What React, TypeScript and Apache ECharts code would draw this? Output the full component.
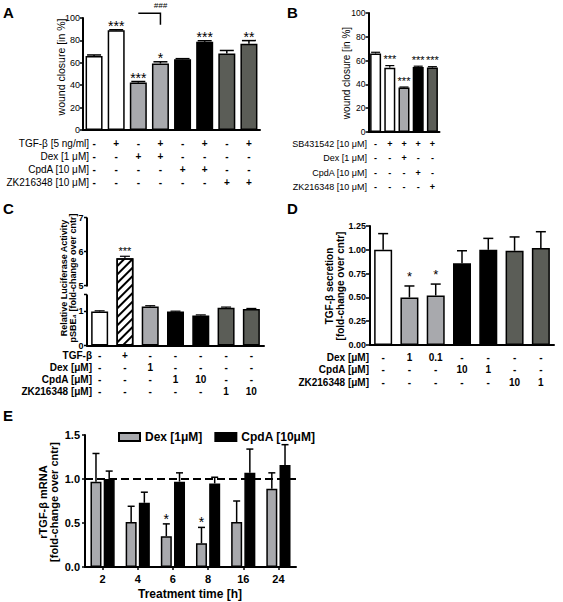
import React, { useEffect, useRef } from 'react';
import * as echarts from 'echarts';

// ---------------- DATA ----------------
// Panel A: wound closure [in %]
const catsA = ['1', '2', '3', '4', '5', '6', '7', '8'];
const woundA = [66, 89, 42.3, 59.4, 63.2, 78.7, 68.2, 77];
const woundErrA = [1, 0.5, 1, 1.5, 0.5, 1, 2.8, 2.8];
const starsA = ['', '***', '***', '*', '', '***', '', '**'];
const groupsA = ['ctrl', 'ctrl', 'dex', 'dex', 'cpda', 'cpda', 'zk', 'zk'];
const rowNamesA = ['TGF-β [5 ng/ml]', 'Dex [1 μM]', 'CpdA [10 μM]', 'ZK216348 [10 μM]'];
const rowsA = [
  ['-', '+', '-', '+', '-', '+', '-', '+'],
  ['-', '-', '+', '+', '-', '-', '-', '-'],
  ['-', '-', '-', '-', '+', '+', '-', '-'],
  ['-', '-', '-', '-', '-', '-', '+', '+'],
];
const bracketA = [2, 3, 104.3, 94]; // from bar, to bar, top value, end value
const bracketLabelA = '###';
const bracketLabelValueA = 111;

// Panel B
const catsB = ['1', '2', '3', '4', '5'];
const woundB = [66, 54, 37.3, 54.6, 54.2];
const woundErrB = [1, 1.8, 0.5, 0.7, 0.7];
const starsB = ['', '***', '***', '***', '***'];
const groupsB = ['ctrl', 'ctrl', 'dex', 'cpda', 'zk'];
const rowNamesB = ['SB431542 [10 μM]', 'Dex [1 μM]', 'CpdA [10 μM]', 'ZK216348 [10 μM]'];
const rowsB = [
  ['-', '+', '+', '+', '+'],
  ['-', '-', '+', '-', '-'],
  ['-', '-', '-', '+', '-'],
  ['-', '-', '-', '-', '+'],
];

// Panel C: luciferase activity (broken y axis)
const catsC = ['1', '2', '3', '4', '5', '6', '7'];
const lucC = [1.0, 5.8, 1.15, 1.0, 0.88, 1.11, 1.07];
const lucErrC = [0.02, 0.06, 0.02, 0.01, 0.02, 0.02, 0.02];
const starsC = ['', '***', '', '', '', '', ''];
const groupsC = ['ctrl', 'tgf', 'dex', 'cpda', 'cpda', 'zk', 'zk'];
const rowNamesC = ['TGF-β', 'Dex [μM]', 'CpdA [μM]', 'ZK216348 [μM]'];
const rowsC = [
  ['-', '+', '-', '-', '-', '-', '-'],
  ['-', '-', '1', '-', '-', '-', '-'],
  ['-', '-', '-', '1', '10', '-', '-'],
  ['-', '-', '-', '-', '-', '1', '10'],
];
const breakC = { start: 1.5, end: 5 };
const yMaxC = 7;
const tickLabelsC = [0, 1, 5, 6, 7];

// Panel D: TGF-β secretion
const catsD = ['1', '2', '3', '4', '5', '6', '7'];
const secD = [1.0, 0.5, 0.52, 0.86, 1.0, 0.99, 1.02];
const secErrD = [0.17, 0.12, 0.12, 0.13, 0.12, 0.145, 0.17];
const starsD = ['', '*', '*', '', '', '', ''];
const groupsD = ['ctrl', 'dex', 'dex', 'cpda', 'cpda', 'zk', 'zk'];
const rowNamesD = ['Dex [μM]', 'CpdA [μM]', 'ZK216348 [μM]'];
const rowsD = [
  ['-', '1', '0.1', '-', '-', '-', '-'],
  ['-', '-', '-', '10', '1', '-', '-'],
  ['-', '-', '-', '-', '-', '10', '1'],
];

// Panel E: rTGF-β mRNA
const timesE = ['2', '4', '6', '8', '16', '24'];
const dexE = [0.97, 0.51, 0.35, 0.27, 0.51, 0.89];
const dexErrE = [0.32, 0.18, 0.14, 0.18, 0.24, 0.18];
const cpdaE = [1.0, 0.73, 0.97, 0.95, 1.07, 1.16];
const cpdaErrE = [0.09, 0.12, 0.1, 0.07, 0.27, 0.23];
const dexStarsE = ['', '', '*', '*', '', ''];
const cpdaStarsE = ['', '', '', '', '', ''];
const refLevelE = 1;
const seriesNamesE = ['Dex [1μM]', 'CpdA [10μM]'];

// ---------------- STYLE ----------------
const F = '"Liberation Sans", Arial, Helvetica, sans-serif';
const COLORS: Record<string, string> = {
  ctrl: '#ffffff',
  tgf: '#ffffff',
  dex: '#a8a9ad',
  cpda: '#000000',
  zk: '#5b5d57',
};
const HATCH = {
  symbol: 'rect',
  symbolSize: 1,
  dashArrayX: [1, 0],
  dashArrayY: [1.6, 3.2],
  rotation: -Math.PI / 4,
  color: '#000',
};
const GRID_C = { left: 87, top: 217.5, width: 177, height: 128 };

function barData(vals: number[], groups: string[]) {
  return vals.map((v, i) => {
    const g = groups[i];
    const item: any = { value: v, itemStyle: { color: COLORS[g] } };
    if (g === 'tgf') item.itemStyle.decal = HATCH;
    return item;
  });
}

function errSeries(
  grid: number,
  vals: number[],
  errs: number[],
  stars: string[],
  o: { offset: number; cap: number; lw: number; fs: number; gap: number }
) {
  return {
    type: 'custom',
    xAxisIndex: grid,
    yAxisIndex: grid,
    clip: false,
    silent: true,
    z: 5,
    data: vals.map((v, i) => [i, v, errs[i]]),
    encode: { x: 0, y: 1 },
    renderItem: (params: any, api: any) => {
      const i = api.value(0);
      const v = api.value(1);
      const e = api.value(2);
      const b = api.coord([i, v]);
      const t = api.coord([i, v + e]);
      const x = b[0] + o.offset;
      const children: any[] = [
        { type: 'line', shape: { x1: x, y1: b[1], x2: x, y2: t[1] }, style: { stroke: '#000', lineWidth: o.lw } },
        { type: 'line', shape: { x1: x - o.cap / 2, y1: t[1], x2: x + o.cap / 2, y2: t[1] }, style: { stroke: '#000', lineWidth: o.lw } },
      ];
      const s = stars[params.dataIndex];
      if (s) {
        children.push({
          type: 'text',
          x,
          y: t[1] - o.gap,
          style: {
            text: s,
            align: 'center',
            verticalAlign: 'bottom',
            textAlign: 'center',
            textVerticalAlign: 'bottom',
            fontSize: o.fs,
            fontFamily: F,
            fill: '#000',
          },
        });
      }
      return { type: 'group', children };
    },
  };
}

function xCat(grid: number, cats: string[], rows: string[][] | null, o: any) {
  return {
    gridIndex: grid,
    type: 'category',
    data: cats,
    axisLine: { show: true, onZero: false, lineStyle: { color: '#000', width: 2 } },
    axisTick: o.tick ? { show: true, alignWithLabel: true, length: 3, lineStyle: { color: '#000', width: 1.5 } } : { show: false },
    splitLine: { show: false },
    axisLabel: {
      show: true,
      interval: 0,
      color: '#000',
      fontFamily: F,
      fontSize: o.fs,
      fontWeight: 'bold',
      lineHeight: o.lh,
      margin: o.margin,
      formatter: rows ? (_v: string, i: number) => rows.map((r) => r[i]).join('\n') : undefined,
    },
  };
}

function yVal(grid: number, o: any) {
  const axisLabel: any = {
    show: true,
    color: '#000',
    fontFamily: F,
    fontSize: o.fs,
    fontWeight: o.bold ? 'bold' : 'normal',
    margin: o.margin,
  };
  if (o.fmt) axisLabel.formatter = o.fmt;
  return {
    gridIndex: grid,
    type: 'value',
    min: o.min,
    max: o.max,
    interval: o.interval,
    axisLine: { show: true, lineStyle: { color: '#000', width: 2 } },
    axisTick: { show: true, inside: false, length: o.tl || 3, lineStyle: { color: '#000', width: 1.5 } },
    splitLine: { show: false },
    axisLabel,
  };
}

function txt(x: number, y: number, text: string, font: string, o: any = {}) {
  return {
    type: 'text',
    x,
    y,
    rotation: o.rot || 0,
    silent: true,
    z: 10,
    style: {
      text,
      font,
      fill: '#000',
      align: o.align || 'left',
      verticalAlign: o.va || 'top',
      textAlign: o.align || 'left',
      textVerticalAlign: o.va || 'top',
      lineHeight: o.lh,
    },
  };
}

const barBase = { type: 'bar', itemStyle: { borderColor: '#000', borderWidth: 1.5 } };

export default function App() {
  const ref = useRef<HTMLDivElement>(null);
  useEffect(() => {
    document.body.style.margin = '0';
    const chart = echarts.init(ref.current!, undefined, { renderer: 'svg' });
    const gridBase = { containLabel: false, outerBoundsMode: 'none' };
    const graphics: any[] = [
      txt(3, 5, 'A', 'bold 15px ' + F),
      txt(287, 5, 'B', 'bold 15px ' + F),
      txt(3, 201, 'C', 'bold 15px ' + F),
      txt(287, 201, 'D', 'bold 15px ' + F),
      txt(3, 408, 'E', 'bold 15px ' + F),
      // row names
      txt(89, 137.6, rowNamesA.join('\n'), '10px ' + F, { align: 'right', lh: 12.8 }),
      txt(367, 137, rowNamesB.join('\n'), '9px ' + F, { align: 'right', lh: 14.3 }),
      txt(92, 349.5, rowNamesC.join('\n'), 'bold 10px ' + F, { align: 'right', lh: 12 }),
      txt(369, 351, rowNamesD.join('\n'), 'bold 10px ' + F, { align: 'right', lh: 12.5 }),
      // y-axis names
      txt(61, 67, 'wound closure [in %]', '10.5px ' + F, { align: 'center', va: 'middle', rot: Math.PI / 2 }),
      txt(346, 73, 'wound closure [in %]', '10px ' + F, { align: 'center', va: 'middle', rot: Math.PI / 2 }),
      txt(68.5, 278, 'Relative Luciferase Activity\npSBE₄ [fold-change over cntr]', 'bold 9px ' + F, {
        align: 'center',
        va: 'middle',
        rot: Math.PI / 2,
        lh: 9.5,
      }),
      txt(335, 286, 'TGF-β secretion\n[fold-change over cntr]', 'bold 10px ' + F, {
        align: 'center',
        va: 'middle',
        rot: Math.PI / 2,
        lh: 10.5,
      }),
      txt(48.5, 502, 'rTGF-β mRNA\n[fold-change over cntr]', 'bold 11px ' + F, {
        align: 'center',
        va: 'middle',
        rot: Math.PI / 2,
        lh: 11.5,
      }),
      txt(190, 594, 'Treatment time [h]', 'bold 12px ' + F, { align: 'center', va: 'middle' }),
    ];
    const yC: any = {
      gridIndex: 2,
      type: 'value',
      min: 0,
      max: yMaxC,
      interval: 1,
      axisLine: { show: false },
      axisTick: { show: false },
      axisLabel: { show: false },
      splitLine: { show: false },
      breaks: [{ start: breakC.start, end: breakC.end, gap: '7%' }],
      breakArea: { show: false, expandOnClick: false, zigzagAmplitude: 0 },
    };
    const option: any = {
      animation: false,
      backgroundColor: '#fff',
      textStyle: { fontFamily: F },
      grid: [
        { ...gridBase, left: 83, top: 18, width: 177, height: 112 },
        { ...gridBase, left: 368.5, top: 13, width: 71, height: 119 },
        { ...gridBase, ...GRID_C },
        { ...gridBase, left: 370, top: 226, width: 184, height: 119 },
        { ...gridBase, left: 85, top: 435, width: 211, height: 132 },
      ],
      legend: {
        left: 113,
        top: 426,
        itemWidth: 21,
        itemHeight: 8,
        itemGap: 12,
        icon: 'rect',
        data: seriesNamesE,
        textStyle: { fontFamily: F, fontSize: 12, fontWeight: 'bold', color: '#000' },
      },
      xAxis: [
        xCat(0, catsA, rowsA, { fs: 10, lh: 12.8, margin: 7.6 }),
        xCat(1, catsB, rowsB, { fs: 9, lh: 14.3, margin: 5 }),
        xCat(2, catsC, rowsC, { fs: 10, lh: 12, margin: 4 }),
        xCat(3, catsD, rowsD, { fs: 10, lh: 12.5, margin: 6 }),
        xCat(4, timesE, null, { fs: 11, lh: 13, margin: 5, tick: true }),
      ],
      yAxis: [
        yVal(0, { min: 0, max: 100, interval: 20, fs: 9, margin: 3 }),
        yVal(1, { min: 0, max: 100, interval: 20, fs: 8.5, margin: 3 }),
        yC,
        yVal(3, { min: 0, max: 1.25, interval: 0.25, fs: 9, bold: true, margin: 4, tl: 4, fmt: (v: number) => v.toFixed(2) }),
        yVal(4, { min: 0, max: 1.5, interval: 0.5, fs: 11, bold: true, margin: 5, fmt: (v: number) => v.toFixed(1) }),
      ],
      series: [
        { ...barBase, xAxisIndex: 0, yAxisIndex: 0, barWidth: 17, data: barData(woundA, groupsA) },
        errSeries(0, woundA, woundErrA, starsA, { offset: 0, cap: 14, lw: 1.5, fs: 14, gap: -3 }),
        {
          type: 'custom',
          xAxisIndex: 0,
          yAxisIndex: 0,
          clip: false,
          silent: true,
          data: [bracketA],
          renderItem: (_p: any, api: any) => {
            const p1 = api.coord([api.value(0), api.value(2)]);
            const p2 = api.coord([api.value(1), api.value(2)]);
            const p3 = api.coord([api.value(1), api.value(3)]);
            const pt = api.coord([(api.value(0) + api.value(1)) / 2, bracketLabelValueA]);
            return {
              type: 'group',
              children: [
                { type: 'polyline', shape: { points: [p1, p2, p3] }, style: { stroke: '#000', lineWidth: 1.5, fill: null } },
                {
                  type: 'text',
                  x: pt[0],
                  y: pt[1],
                  style: { text: bracketLabelA, align: 'center', verticalAlign: 'middle', textAlign: 'center', textVerticalAlign: 'middle', font: 'italic 8px ' + F, fill: '#000' },
                },
              ],
            };
          },
        },
        { ...barBase, xAxisIndex: 1, yAxisIndex: 1, barWidth: 11, data: barData(woundB, groupsB) },
        errSeries(1, woundB, woundErrB, starsB, { offset: 0, cap: 9, lw: 1.2, fs: 11, gap: 1 }),
        { ...barBase, xAxisIndex: 2, yAxisIndex: 2, barWidth: 17, data: barData(lucC, groupsC) },
        errSeries(2, lucC, lucErrC, starsC, { offset: 0, cap: 10, lw: 1.2, fs: 11, gap: 0 }),
        { ...barBase, xAxisIndex: 3, yAxisIndex: 3, barWidth: 18, data: barData(secD, groupsD) },
        errSeries(3, secD, secErrD, starsD, { offset: 0, cap: 10, lw: 1.5, fs: 13, gap: 3 }),
        {
          ...barBase,
          name: seriesNamesE[0],
          xAxisIndex: 4,
          yAxisIndex: 4,
          barWidth: 11,
          barGap: '20%',
          itemStyle: { color: COLORS.dex, borderColor: '#000', borderWidth: 1.5 },
          data: dexE,
        },
        {
          ...barBase,
          name: seriesNamesE[1],
          xAxisIndex: 4,
          yAxisIndex: 4,
          barWidth: 11,
          barGap: '20%',
          itemStyle: { color: COLORS.cpda, borderColor: '#000', borderWidth: 1.5 },
          data: cpdaE,
          markLine: {
            silent: true,
            symbol: ['none', 'none'],
            label: { show: false },
            lineStyle: { type: [8, 4], color: '#000', width: 2 },
            data: [{ yAxis: refLevelE }],
          },
        },
        errSeries(4, dexE, dexErrE, dexStarsE, { offset: -6.6, cap: 7, lw: 1.5, fs: 14, gap: -2 }),
        errSeries(4, cpdaE, cpdaErrE, cpdaStarsE, { offset: 6.6, cap: 7, lw: 1.5, fs: 14, gap: -2 }),
      ],
      graphic: graphics,
    };
    chart.setOption(option);

    // Broken y axis of panel C: segments, ticks and labels placed through the axis scale
    const py = (v: number) => {
      const r: any = chart.convertToPixel({ yAxisIndex: 2 }, v);
      return Array.isArray(r) ? r[1] : r;
    };
    const ax = GRID_C.left;
    const extra: any[] = [];
    const seg = (a: number, b: number) => {
      const y1 = py(a);
      const y2 = py(b);
      if (isFinite(y1) && isFinite(y2)) {
        extra.push({ type: 'line', silent: true, z: 10, shape: { x1: ax, y1: y1 + 1, x2: ax, y2: y2 }, style: { stroke: '#000', lineWidth: 2 } });
      }
    };
    seg(0, breakC.start);
    seg(breakC.end, yMaxC);
    [...tickLabelsC, breakC.start].forEach((v) => {
      const y = py(v);
      if (!isFinite(y)) return;
      extra.push({ type: 'line', silent: true, z: 10, shape: { x1: ax - 3, y1: y, x2: ax, y2: y }, style: { stroke: '#000', lineWidth: 1.5 } });
    });
    tickLabelsC.forEach((v) => {
      const y = py(v);
      if (!isFinite(y)) return;
      extra.push(txt(ax - 3.5, y, String(v), 'bold 9px ' + F, { align: 'right', va: 'middle' }));
    });
    chart.setOption({ graphic: [...graphics, ...extra] });

    return () => chart.dispose();
  }, []);
  return <div ref={ref} style={{ width: 563, height: 602 }} />;
}
